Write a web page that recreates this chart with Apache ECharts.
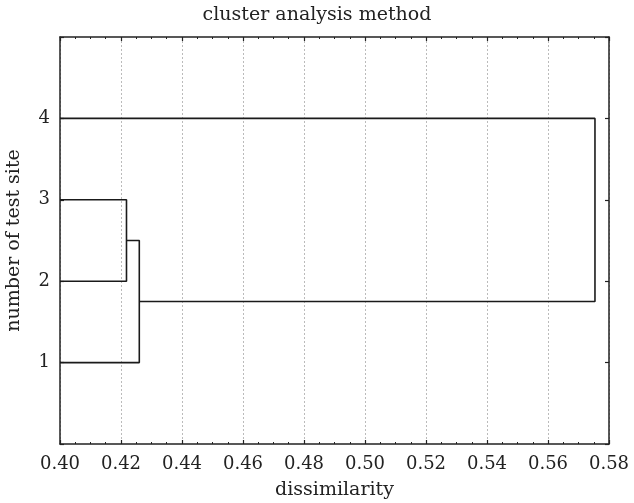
<!DOCTYPE html>
<html>
<head>
<meta charset="utf-8">
<script src="https://cdn.jsdelivr.net/npm/echarts@6/dist/echarts.min.js"></script>
<style>
  html, body { margin: 0; padding: 0; background: #fff; }
  #main { width: 634px; height: 503px; }
</style>
</head>
<body>
<div id="main"></div>
<script>
// 数据
const leafLabels = ['1', '2', '3', '4'];
const leafPos = [1, 2, 3, 4];
const baseX = 0.40;
// 每次合并: [左节点, 右节点, 相异度]
const merges = [
  ['L3', 'L2', 0.4218],
  ['L1', 'M0', 0.4260],
  ['M1', 'L4', 0.5754]
];
const xTicks = ['0.40', '0.42', '0.44', '0.46', '0.48', '0.50', '0.52', '0.54', '0.56', '0.58'];

const FONT = 'DejaVu Serif';

// 节点 -> {x, y}
const nodes = {};
leafPos.forEach((p, i) => { nodes['L' + leafLabels[i]] = { x: baseX, y: p }; });

const linkSeries = merges.map((m, i) => {
  const a = nodes[m[0]], b = nodes[m[1]], h = m[2];
  nodes['M' + i] = { x: h, y: (a.y + b.y) / 2 };
  return {
    type: 'line',
    data: [[a.x, a.y], [h, a.y], [h, b.y], [b.x, b.y]],
    symbol: 'none',
    lineStyle: { color: '#1a1a1a', width: 1.6 },
    silent: true
  };
});

const chart = echarts.init(document.getElementById('main'));

const baseXAxis = {
  type: 'value',
  min: 0.40, max: 0.58, interval: 0.02,
  axisLine: { show: true, onZero: false, lineStyle: { color: '#222', width: 1.5 } },
  axisTick: { show: true, inside: true, length: 4, lineStyle: { color: '#222', width: 1.2 } },
  minorTick: { show: true, splitNumber: 4, length: 2, lineStyle: { color: '#222' } }
};

chart.setOption({
  animation: false,
  title: {
    text: 'cluster analysis method',
    left: 'center',
    top: 1,
    textStyle: { fontFamily: FONT, fontWeight: 'normal', fontSize: 19, color: '#222' }
  },
  grid: { left: 60, right: 25, top: 37, bottom: 59, containLabel: false, outerBoundsMode: 'none' },
  xAxis: [
    Object.assign({}, baseXAxis, {
      position: 'bottom',
      name: 'dissimilarity',
      nameLocation: 'middle',
      nameGap: 37,
      nameTextStyle: { fontFamily: FONT, fontSize: 19, color: '#222' },
      axisLabel: {
        fontFamily: FONT, fontSize: 18, color: '#222', margin: 11,
        formatter: v => xTicks[Math.round((v - 0.40) / 0.02)]
      },
      splitLine: { show: true, lineStyle: { color: '#bbb', type: [2, 2], width: 1 } }
    }),
    Object.assign({}, baseXAxis, {
      position: 'top',
      axisLabel: { show: false },
      splitLine: { show: false }
    })
  ],
  yAxis: [
    {
      type: 'value', min: 0, max: 5, interval: 1, position: 'left',
      name: 'number of test site',
      nameLocation: 'middle',
      nameGap: 36,
      nameTextStyle: { fontFamily: FONT, fontSize: 19, color: '#222' },
      axisLine: { show: true, onZero: false, lineStyle: { color: '#222', width: 1.5 } },
      axisTick: { show: true, inside: true, length: 4, lineStyle: { color: '#222', width: 1.2 } },
      axisLabel: {
        fontFamily: FONT, fontSize: 18, color: '#222', margin: 10,
        formatter: v => (v >= 1 && v <= 4 ? leafLabels[v - 1] : '')
      },
      splitLine: { show: false }
    },
    {
      type: 'value', min: 0, max: 5, interval: 1, position: 'right',
      axisLine: { show: true, onZero: false, lineStyle: { color: '#222', width: 1.5 } },
      axisTick: { show: true, inside: true, length: 4, lineStyle: { color: '#222', width: 1.2 } },
      axisLabel: { show: false },
      splitLine: { show: false }
    }
  ],
  series: linkSeries
});
</script>
</body>
</html>
